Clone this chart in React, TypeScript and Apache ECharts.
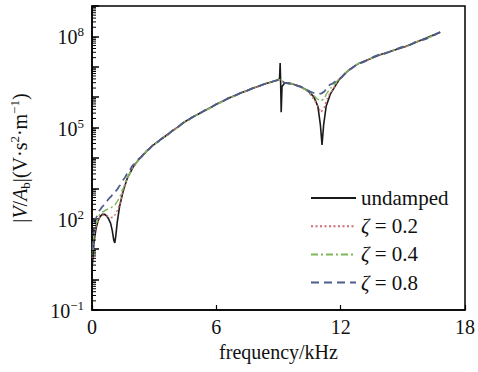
import React, { useEffect, useRef } from "react";
import * as echarts from "echarts";

// frequency (kHz) samples
const freqUndamped = [0.02, 0.1, 0.2, 0.3, 0.4, 0.5, 0.6, 0.7, 0.8, 0.9, 0.98, 1.05, 1.1, 1.15, 1.22, 1.33, 1.5, 1.71, 2.0, 2.3, 2.67, 3.0, 3.5, 4.0, 4.5, 5.0, 5.5, 6.1, 6.7, 7.3, 7.9, 8.4, 8.9, 9.05, 9.08, 9.1, 9.13, 9.17, 9.3, 9.6, 10.05, 10.4, 10.7, 10.9, 11.02, 11.1, 11.18, 11.3, 11.5, 11.95, 12.4, 12.9, 13.9, 15.1, 15.9, 16.8];
const valUndamped = [3.2, 18, 50, 89, 120, 141, 141, 126, 100, 71, 40, 20, 16, 28, 79, 251, 794, 2239, 5248, 9550, 1.78e4, 2.82e4, 5.0e4, 8.9e4, 1.58e5, 2.5e5, 3.8e5, 6.3e5, 1.0e6, 1.48e6, 2.14e6, 2.8e6, 3.55e6, 4.0e6, 1.32e7, 4.0e6, 3.2e5, 2.24e6, 2.95e6, 2.8e6, 2.24e6, 1.66e6, 1.05e6, 5.0e5, 1.26e5, 2.7e4, 1.26e5, 5.0e5, 1.26e6, 4.0e6, 7.9e6, 1.32e7, 2.5e7, 4.6e7, 7.6e7, 1.38e8];

const freqDamped = [0.02, 0.1, 0.2, 0.38, 0.5, 0.7, 0.9, 1.0, 1.1, 1.2, 1.33, 1.5, 1.71, 2.0, 2.3, 2.67, 3.0, 3.5, 4.0, 4.5, 5.0, 5.5, 6.1, 6.7, 7.3, 7.9, 8.4, 8.9, 9.1, 9.3, 9.6, 10.05, 10.4, 10.7, 10.9, 11.05, 11.2, 11.35, 11.5, 11.95, 12.4, 12.9, 13.9, 15.1, 15.9, 16.8];
const valZeta02 = [5.0, 22, 56, 112, 132, 126, 110, 112, 132, 178, 282, 794, 2239, 5248, 9550, 1.78e4, 2.82e4, 5.0e4, 8.9e4, 1.58e5, 2.5e5, 3.8e5, 6.3e5, 1.0e6, 1.48e6, 2.14e6, 2.8e6, 3.55e6, 3.8e6, 2.95e6, 2.8e6, 2.24e6, 1.58e6, 8.9e5, 5.0e5, 3.2e5, 4.5e5, 8.9e5, 1.41e6, 4.0e6, 7.9e6, 1.32e7, 2.5e7, 4.6e7, 7.6e7, 1.38e8];
const valZeta04 = [6.3, 28, 71, 141, 166, 200, 229, 251, 282, 355, 501, 1000, 2344, 5248, 9550, 1.78e4, 2.82e4, 5.0e4, 8.9e4, 1.58e5, 2.5e5, 3.8e5, 6.3e5, 1.0e6, 1.48e6, 2.14e6, 2.8e6, 3.55e6, 3.8e6, 2.95e6, 2.8e6, 2.24e6, 1.66e6, 1.12e6, 8.5e5, 7.6e5, 8.9e5, 1.41e6, 2.0e6, 4.0e6, 7.9e6, 1.32e7, 2.5e7, 4.6e7, 7.6e7, 1.38e8];
const valZeta08 = [10, 50, 112, 195, 251, 380, 525, 631, 759, 891, 1202, 1905, 3020, 6026, 9800, 1.8e4, 2.82e4, 5.0e4, 8.9e4, 1.58e5, 2.5e5, 3.8e5, 6.3e5, 1.0e6, 1.48e6, 2.14e6, 2.8e6, 3.55e6, 3.7e6, 2.95e6, 2.8e6, 2.24e6, 1.66e6, 1.38e6, 1.32e6, 1.32e6, 1.51e6, 2.09e6, 2.63e6, 4.0e6, 7.9e6, 1.32e7, 2.5e7, 4.6e7, 7.6e7, 1.38e8];

const seriesNames = ["undamped", "ζ = 0.2", "ζ = 0.4", "ζ = 0.8"];
const xTicks = [0, 6, 12, 18];
const yLabelExponents = [-1, 2, 5, 8];
const yMin = 0.1;
const yMax = 1e9;

const SERIF = "Liberation Serif";

function minorTickValues(): number[] {
  const out: number[] = [];
  for (let n = -1; n < 9; n++) {
    for (let k = 2; k <= 9; k++) out.push(k * Math.pow(10, n));
  }
  return out;
}

export default function App() {
  const ref = useRef<HTMLDivElement>(null);
  useEffect(() => {
    if (!ref.current) return;
    const chart = echarts.init(ref.current, null, { renderer: "svg" });
    const pair = (xs: number[], ys: number[]) => xs.map((x, i) => [x, ys[i]]);
    const option: any = {
      animation: false,
      backgroundColor: "#fff",
      textStyle: { fontFamily: SERIF },
      grid: {
        left: 89,
        right: 11,
        top: 6,
        bottom: 62,
        show: true,
        borderColor: "#000",
        borderWidth: 1.5,
      },
      legend: {
        data: seriesNames,
        orient: "vertical",
        left: 310,
        top: 187,
        padding: 0,
        itemWidth: 45,
        itemHeight: 14,
        itemGap: 6.2,
        itemStyle: { opacity: 0 },
        textStyle: {
          fontFamily: SERIF,
          fontSize: 21,
          lineHeight: 22,
          color: "#111",
          rich: {
            i: { fontFamily: SERIF, fontSize: 21, lineHeight: 22, fontStyle: "italic", color: "#111" },
            n: { fontFamily: SERIF, fontSize: 21, lineHeight: 22, color: "#111" },
          },
        },
        formatter: (name: string) =>
          name.startsWith("ζ") ? `{i|ζ}{n|${name.slice(1)}}` : name,
      },
      xAxis: {
        type: "value",
        min: 0,
        max: 18,
        interval: 6,
        name: "frequency/kHz",
        nameLocation: "middle",
        nameGap: 32,
        nameTextStyle: { fontFamily: SERIF, fontSize: 20, color: "#111" },
        axisLine: { show: true, lineStyle: { color: "#000", width: 1.5 } },
        axisTick: { show: true, inside: true, length: 5, lineStyle: { color: "#000", width: 1.2 } },
        axisLabel: {
          fontFamily: SERIF,
          fontSize: 20,
          color: "#111",
          margin: 7,
          formatter: (v: number) => (xTicks.includes(v) ? String(v) : ""),
        },
        splitLine: { show: false },
      },
      yAxis: {
        type: "log",
        logBase: 10,
        min: yMin,
        max: yMax,
        interval: 1,
        name:
          "{n||}{i|V}{n|/}{i|A}{sub|b}{n||(V·s}{sup|2}{n|·m}{sup|−1}{n|)}",
        nameLocation: "middle",
        nameRotate: 90,
        nameGap: 60,
        nameTextStyle: {
          fontFamily: SERIF,
          fontSize: 20,
          color: "#111",
          rich: {
            n: { fontFamily: SERIF, fontSize: 20, color: "#111", lineHeight: 24, verticalAlign: "middle" },
            i: { fontFamily: SERIF, fontSize: 20, fontStyle: "italic", color: "#111", lineHeight: 24, verticalAlign: "middle" },
            sub: { fontFamily: SERIF, fontSize: 13, color: "#111", verticalAlign: "bottom", lineHeight: 14 },
            sup: { fontFamily: SERIF, fontSize: 13, color: "#111", verticalAlign: "top", lineHeight: 14 },
          },
        },
        axisLine: { show: true, lineStyle: { color: "#000", width: 1.5 } },
        axisTick: { show: true, inside: true, length: 7, lineStyle: { color: "#000", width: 1.5 } },
        axisLabel: {
          margin: 8,
          fontFamily: SERIF,
          formatter: (v: number) => {
            const e = Math.round(Math.log10(v));
            if (!yLabelExponents.includes(e)) return "";
            const s = e < 0 ? "−" + Math.abs(e) : String(e);
            return `{b|10}{s|${s}}`;
          },
          rich: {
            b: { fontFamily: SERIF, fontSize: 20, color: "#111", lineHeight: 22, verticalAlign: "bottom" },
            s: { fontFamily: SERIF, fontSize: 13, color: "#111", lineHeight: 14, verticalAlign: "top" },
          },
        },
        splitLine: { show: false },
      },
      series: [
        {
          name: seriesNames[0],
          type: "line",
          data: pair(freqUndamped, valUndamped),
          symbol: "none",
          lineStyle: { color: "#1a1a1a", width: 1.6, type: "solid" },
          itemStyle: { color: "#1a1a1a" },
          z: 2,
        },
        {
          name: seriesNames[1],
          type: "line",
          data: pair(freqDamped, valZeta02),
          symbol: "none",
          smooth: 0.2,
          smoothMonotone: "x",
          lineStyle: { color: "#d26a72", width: 1.5, type: [2, 2.5] },
          itemStyle: { color: "#d26a72" },
          z: 3,
        },
        {
          name: seriesNames[2],
          type: "line",
          data: pair(freqDamped, valZeta04),
          symbol: "none",
          smooth: 0.2,
          smoothMonotone: "x",
          lineStyle: { color: "#7fb85a", width: 1.5, type: [7, 3, 2, 3] },
          itemStyle: { color: "#7fb85a" },
          z: 4,
        },
        {
          name: seriesNames[3],
          type: "line",
          data: pair(freqDamped, valZeta08),
          symbol: "none",
          smooth: 0.2,
          smoothMonotone: "x",
          lineStyle: { color: "#4d5d8c", width: 1.8, type: [8, 5] },
          itemStyle: { color: "#4d5d8c" },
          z: 5,
        },
        {
          name: "minorTicks",
          type: "custom",
          coordinateSystem: "cartesian2d",
          silent: true,
          clip: false,
          z: 6,
          data: minorTickValues().map((v) => [0, v]),
          renderItem: (_params: any, api: any) => {
            const p = api.coord([0, api.value(1)]);
            return {
              type: "line",
              shape: { x1: p[0], y1: p[1], x2: p[0] + 4, y2: p[1] },
              style: { stroke: "#000", lineWidth: 1 },
            };
          },
        },
      ],
    };
    chart.setOption(option);
    return () => chart.dispose();
  }, []);
  return (
    <div
      ref={ref}
      style={{ position: "fixed", left: 0, top: 0, width: 478, height: 372, background: "#fff" }}
    />
  );
}
